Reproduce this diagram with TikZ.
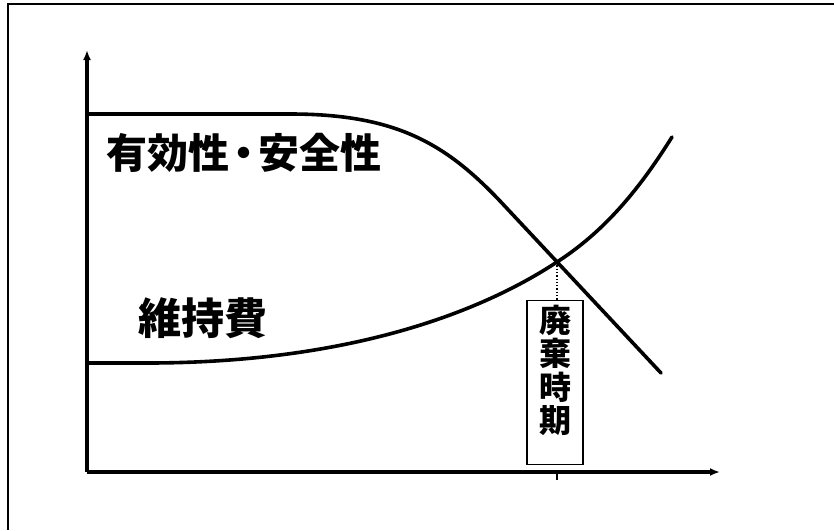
\documentclass[tikz,border=0pt]{standalone}
\usepackage{fontspec}
\usepackage{tikz}
\usetikzlibrary{calc,arrows.meta}
\newfontfamily\jpfont{Noto Sans CJK JP}
\definecolor{ink}{HTML}{000000}
\tikzset{
  base/.style={draw=ink, line width=3.6pt, line cap=round, line join=round},
  axis/.style={draw=ink, line width=3.2pt, -{Latex[length=10pt,width=8pt]}},
  frame/.style={draw=ink, line width=1.5pt},
  help/.style={draw=ink, dotted, line width=1.3pt},
  lab/.style={text=ink, inner sep=0pt, font=\jpfont\bfseries\fontsize{41}{44}\selectfont},
  labl/.style={text=ink, inner sep=0pt, font=\jpfont\bfseries\fontsize{43}{46}\selectfont},
  tagbox/.style={draw=ink, line width=1.2pt, inner sep=0pt, anchor=north,
    minimum width=56pt, minimum height=164pt,
    font=\jpfont\bfseries\fontsize{32}{34}\selectfont},
}

\begin{document}
\begin{tikzpicture}[x=1pt,y=-1pt]
  \useasboundingbox (0,0) rectangle (834,530);
  % outer frame (left and top only)
  \draw[frame] (8,530) -- (8,4) -- (834,4);
  \coordinate (O) at (87,472);
  \coordinate (ytop) at (87,50);
  \coordinate (xend) at (720,472);
  \coordinate (cross) at (557,262);
  \coordinate (tick) at (557,480);
  \draw[axis] (O) -- (ytop);
  \draw[axis] (O) -- (xend);
  \draw[draw=ink, line width=1.5pt] (cross |- O) -- (tick);
  % effectiveness / safety
  \draw[base] (87,114) -- (290,114) .. controls (395,114) and (445,143) .. (500,201) -- (661,373);
  % upkeep cost
  \draw[base] (87,363) -- (140,363) .. controls (340,364) and (475,316) .. (cross)
    .. controls (610,228) and (645,180) .. (672,137);
  \node[lab] (effect) at (244,153) {有効性\kern-0.15em・\kern-0.15em 安全性};
  \node[labl] (upkeep) at (203,318) {維持費};
  \node[tagbox] (dispose) at (555,300)
    {\shortstack{廃\\棄\\時\\期}\rule[-28pt]{0pt}{0pt}};
  \draw[help] (cross) -- (cross |- dispose.north);
\end{tikzpicture}
\end{document}
